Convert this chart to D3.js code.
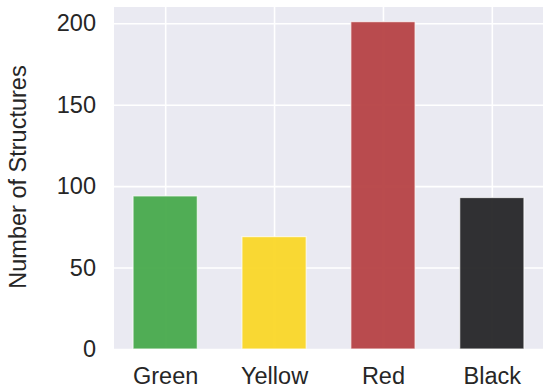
<!DOCTYPE html>
<html>
<head>
<meta charset="utf-8">
<script src="https://cdn.jsdelivr.net/npm/d3@7"></script>
<style>
  body { margin: 0; background: #fff; }
  svg text { font-family: "Liberation Sans", Arial, sans-serif; fill: #262626; }
</style>
</head>
<body>
<div id="chart"></div>
<script>
// data
const categories = ['Green', 'Yellow', 'Red', 'Black'];
const counts = [94, 69, 201, 93];
const barColors = ['#48aa4c', '#fad728', '#b64244', '#262628'];
const yTicks = [0, 50, 100, 150, 200];

const margin = {top: 7, right: 7, bottom: 43, left: 114};
const width = 550 - margin.left - margin.right;
const height = 392 - margin.top - margin.bottom;
const fontSize = 23.5;

const svg = d3.select('#chart').append('svg')
    .attr('width', width + margin.left + margin.right)
    .attr('height', height + margin.top + margin.bottom)
    .append('g')
    .attr('transform', 'translate(' + margin.left + ',' + margin.top + ')');

// position of each category, like matplotlib's 0..n-1
let xScale = d3.scaleLinear()
    .domain([-0.47, categories.length - 0.53])
    .range([0, width]);

let yScale = d3.scaleLinear()
    .domain([0, 210])
    .range([height, 0]);

const barWidth = 0.59;

svg.append('rect')
    .attr('width', width)
    .attr('height', height)
    .attr('fill', '#eaeaf2');

// grid
let xAxis = d3.axisBottom(xScale)
    .tickValues(d3.range(categories.length))
    .tickFormat(i => categories[i])
    .tickSize(-height)
    .tickPadding(18);

let yAxis = d3.axisLeft(yScale)
    .tickValues(yTicks)
    .tickSize(-width)
    .tickPadding(18);

let xAxisGroup = svg.append('g')
    .attr('class', 'axis x-axis')
    .attr('transform', 'translate(0,' + height + ')')
    .call(xAxis);

let yAxisGroup = svg.append('g')
    .attr('class', 'axis y-axis')
    .call(yAxis);

svg.selectAll('.axis').attr('font-size', fontSize).attr('font-family', null);
svg.selectAll('.axis .domain').remove();
svg.selectAll('.axis line')
    .attr('stroke', '#fff')
    .attr('stroke-width', 1.6);
svg.selectAll('.axis text')
    .attr('fill', '#262626');

// bars
svg.selectAll('.bar')
    .data(counts)
    .enter().append('rect')
    .attr('class', 'bar')
    .attr('x', (d, i) => xScale(i - barWidth / 2))
    .attr('width', xScale(barWidth) - xScale(0))
    .attr('y', d => yScale(d))
    .attr('height', d => height - yScale(d))
    .attr('fill', (d, i) => barColors[i])
    .attr('fill-opacity', 0.95)
    .attr('stroke', '#fff')
    .attr('stroke-opacity', 0.7)
    .attr('stroke-width', 1.2);

// y label
svg.append('text')
    .attr('transform', 'translate(' + (18 - margin.left) + ',' + (177 - margin.top) + ') rotate(-90)')
    .attr('text-anchor', 'middle')
    .attr('dominant-baseline', 'central')
    .attr('font-size', fontSize)
    .text('Number of Structures');
</script>
</body>
</html>
